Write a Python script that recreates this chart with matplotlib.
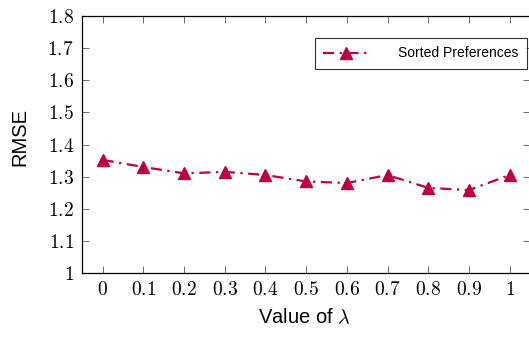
import numpy as np
import matplotlib.pyplot as plt

plt.rcParams['mathtext.fontset'] = 'cm'
plt.rcParams['font.family'] = ['Liberation Sans', 'DejaVu Sans']

# 数据
lambda_vals = [0, 0.1, 0.2, 0.3, 0.4, 0.5, 0.6, 0.7, 0.8, 0.9, 1]
rmse_vals = [1.352, 1.330, 1.310, 1.315, 1.305, 1.285, 1.280, 1.305, 1.265, 1.258, 1.305]
x_tick_labels = ['0', '0.1', '0.2', '0.3', '0.4', '0.5', '0.6', '0.7', '0.8', '0.9', '1']
y_ticks = [1, 1.1, 1.2, 1.3, 1.4, 1.5, 1.6, 1.7, 1.8]
y_tick_labels = ['1', '1.1', '1.2', '1.3', '1.4', '1.5', '1.6', '1.7', '1.8']
line_color = '#BF0040'

fig = plt.figure(figsize=(5.29, 3.4), dpi=100)
# 右边框刚好在图片外面
ax = fig.add_axes([82.3 / 529, 1 - 273 / 340, 447.7 / 529, (273 - 16) / 340])

ax.plot(lambda_vals, rmse_vals, color=line_color, linestyle=(0, (5, 2.5, 1, 2.5)),
        linewidth=1.6, marker='^', markersize=8, label='Sorted Preferences')

ax.set_xlim(-0.05, 1.05)
ax.set_ylim(1, 1.8)
ax.set_xticks(lambda_vals)
ax.set_xticklabels(['$' + s + '$' for s in x_tick_labels], fontsize=14)
ax.set_yticks(y_ticks)
ax.set_yticklabels(['$' + s + '$' for s in y_tick_labels], fontsize=14)
ax.tick_params(direction='in', length=5, width=0.6, color='#555555', top=True, right=True, pad=6)
for sp in ax.spines.values():
    sp.set_linewidth(0.9)

ax.set_xlabel(r'Value of $\lambda$', fontsize=14.5)
ax.xaxis.set_label_coords(0.496, -0.136)
ax.set_ylabel('RMSE', fontsize=14.5)
ax.yaxis.set_label_coords(-0.119, 0.529)

leg = ax.legend(loc='upper right', bbox_to_anchor=(0.9933, 0.914), borderaxespad=0,
                fontsize=10, frameon=True, fancybox=False, edgecolor='black',
                handlelength=3.24, borderpad=0.6, handletextpad=2.16)
leg.get_frame().set_linewidth(0.8)

plt.savefig('out.png', dpi=100)
